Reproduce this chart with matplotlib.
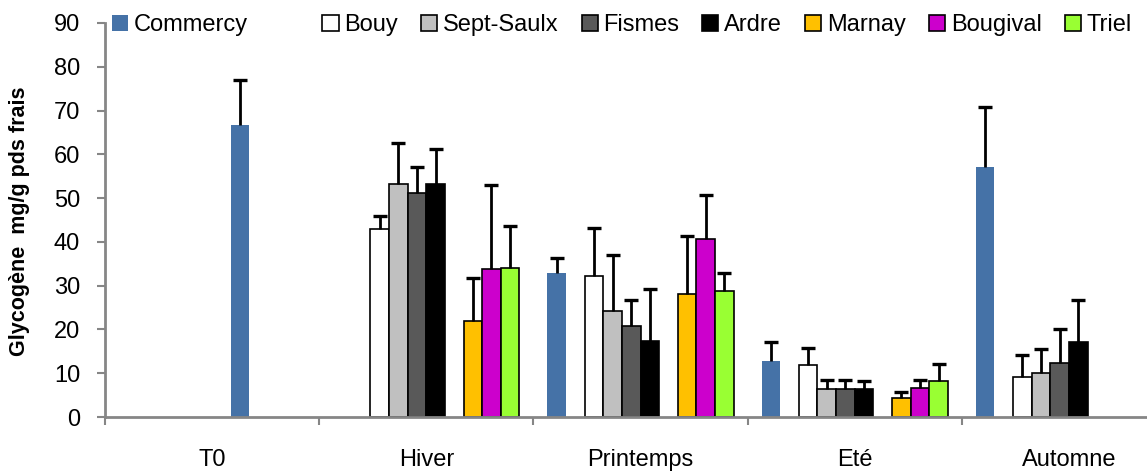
import numpy as np
import matplotlib
matplotlib.use("Agg")
import matplotlib.pyplot as plt
from matplotlib.patches import Patch

plt.rcParams["font.family"] = ["Liberation Sans", "DejaVu Sans"]

categories = ["T0", "Hiver", "Printemps", "Eté", "Automne"]

# upper error only (SD drawn above the bar)
commercy_t0 = [66.7, None, None, None, None]
commercy_t0_err = [10.3, None, None, None, None]
commercy = [None, None, 33.0, 12.8, 57.0]
commercy_err = [None, None, 3.4, 4.4, 13.7]
bouy = [None, 42.9, 32.3, 11.8, 9.1]
bouy_err = [None, 2.9, 10.9, 3.9, 5.1]
sept_saulx = [None, 53.3, 24.3, 6.3, 10.0]
sept_saulx_err = [None, 9.4, 12.6, 2.2, 5.5]
fismes = [None, 51.2, 20.9, 6.3, 12.3]
fismes_err = [None, 6.0, 5.8, 2.2, 7.7]
ardre = [None, 53.3, 17.3, 6.3, 17.1]
ardre_err = [None, 7.9, 11.9, 1.9, 9.6]
marnay = [None, 22.0, 28.2, 4.3, None]
marnay_err = [None, 9.7, 13.1, 1.5, None]
bougival = [None, 33.7, 40.7, 6.6, None]
bougival_err = [None, 19.4, 10.0, 1.9, None]
triel = [None, 34.1, 28.8, 8.3, None]
triel_err = [None, 9.6, 4.0, 3.8, None]

# (label, values, errors, colour, edge, slot)
series = [
    ("Commercy", commercy, commercy_err, "#4572A7", "none", 0),
    ("Bouy", bouy, bouy_err, "#FFFFFF", "black", 2),
    ("Sept-Saulx", sept_saulx, sept_saulx_err, "#C0C0C0", "black", 3),
    ("Fismes", fismes, fismes_err, "#595959", "black", 4),
    ("Ardre", ardre, ardre_err, "#000000", "black", 5),
    ("_T0", commercy_t0, commercy_t0_err, "#4572A7", "none", 6),
    ("Marnay", marnay, marnay_err, "#FFC000", "black", 7),
    ("Bougival", bougival, bougival_err, "#CC00CC", "black", 8),
    ("Triel", triel, triel_err, "#99FF33", "black", 9),
]

fig = plt.figure(figsize=(11.47, 4.71), dpi=100)
ax = fig.add_axes([105 / 1147, 54 / 471, 1071 / 1147, 394 / 471])

w = 1 / 11.5
cat_x = np.arange(len(categories))
for label, vals, errs, color, edge, slot in series:
    idx = [i for i, v in enumerate(vals) if v is not None]
    xs = cat_x[idx] - 0.5 + (slot + 1.25) * w
    vs = np.array([vals[i] for i in idx])
    es = np.array([errs[i] for i in idx])
    ax.bar(xs, vs, width=w, color=color, edgecolor=edge,
           linewidth=1.2 if edge != "none" else 0, zorder=2)
    # error line upward only, cap only at the top
    ax.errorbar(xs, vs, yerr=[np.zeros(len(es)), es], fmt="none",
                ecolor="black", elinewidth=2, capsize=0, zorder=3)
    ax.plot(xs, vs + es, ls="none", marker="_", markersize=10,
            markeredgewidth=2.4, color="black", zorder=3)

ax.set_xlim(-0.5, 4.5)
ax.set_ylim(0, 90)
ax.set_yticks(np.arange(0, 91, 10))
ax.set_xticks(cat_x)
ax.set_xticklabels(categories)
ax.set_xticks(np.arange(-0.5, 5, 1), minor=True)
ax.tick_params(axis="x", which="major", length=0, pad=23, labelsize=17)
ax.tick_params(axis="x", which="minor", length=6, width=1.5, color="#868686")
ax.tick_params(axis="y", length=6, width=1.5, color="#868686", pad=12, labelsize=17)
for side in ["top", "right"]:
    ax.spines[side].set_visible(False)
for side in ["left", "bottom"]:
    ax.spines[side].set_color("#868686")
    ax.spines[side].set_linewidth(2)
    ax.spines[side].set_zorder(3)

fig.text(20 / 1147, 1 - 221 / 471, "Glycogène  mg/g pds frais", rotation=90,
         ha="center", va="center", fontsize=15.5, fontweight="bold")

handles = []
for label, vals, errs, color, edge, slot in series:
    if label.startswith("_"):
        continue
    handles.append(Patch(facecolor=color, edgecolor=edge, linewidth=1.2, label=label))
    if label == "Commercy":
        handles.append(Patch(facecolor="none", edgecolor="none", label=" "))
fig.legend(handles=handles, loc="center left", bbox_to_anchor=(112 / 1147, 1 - 25 / 471),
           ncol=len(handles), frameon=False, fontsize=17, handlelength=0.68,
           handleheight=0.68, handletextpad=0.25, columnspacing=0.97,
           borderpad=0, borderaxespad=0)

fig.savefig("out.png", dpi=100)
